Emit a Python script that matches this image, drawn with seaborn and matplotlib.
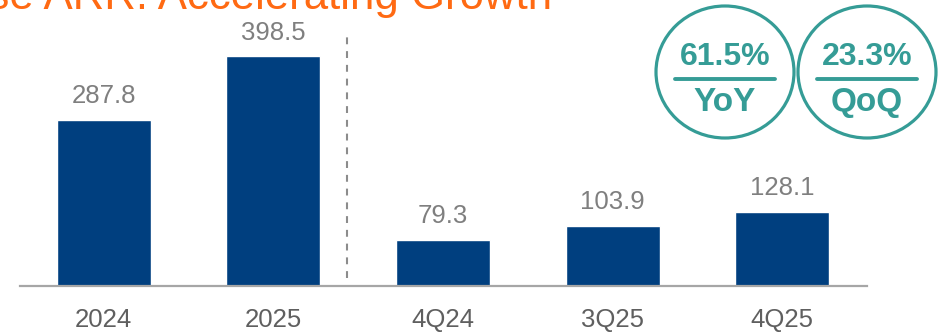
import matplotlib
matplotlib.use("Agg")
import matplotlib.pyplot as plt
from matplotlib.patches import Ellipse
import pandas as pd
import seaborn as sns

sns.set_theme(style="white")
plt.rcParams["font.family"] = ["Liberation Sans", "DejaVu Sans"]

periods = ["2024", "2025", "4Q24", "3Q25", "4Q25"]
values = [287.8, 398.5, 79.3, 103.9, 128.1]
badge_values = ["61.5%", "23.3%"]
badge_labels = ["YoY", "QoQ"]
title = "Base ARR: Accelerating Growth"

NAVY = "#003F7F"
TEAL = "#359C96"
ORANGE = "#FF6A13"
GRAY = "#7F7F7F"

df = pd.DataFrame({"period": periods, "value": values})

W, H = 941, 333
fig = plt.figure(figsize=(W / 100, H / 100), dpi=100)
ax = fig.add_axes([20 / W, (H - 286) / H, 847 / W, 286 / H])

sns.barplot(data=df, x="period", y="value", color=NAVY, saturation=1,
            width=0.554, ax=ax)
ax.set_xlim(-0.493, 4.5)
ax.set_ylim(0, 496.5)

for i, v in enumerate(values):
    ax.annotate(f"{v:.1f}", (i, v), xytext=(0, 12.2), textcoords="offset points",
                ha="center", va="baseline", fontsize=18.5, color=GRAY)

# separator between annual and quarterly bars
ax.plot([1.432, 1.432], [14, 439], color="#8C8C8C", lw=1.5,
        linestyle=(0, (3.3, 3.3)), clip_on=False)

for side in ["top", "right", "left"]:
    ax.spines[side].set_visible(False)
ax.spines["bottom"].set_color("#A6A6A6")
ax.spines["bottom"].set_linewidth(1.6)
ax.set_yticks([])
ax.set_xlabel("")
ax.set_ylabel("")
ax.tick_params(axis="x", length=0, pad=15.5, labelsize=18.5, labelcolor="#5F5F5F")

# growth badges
for cx, val, lab in zip([725, 867], badge_values, badge_labels):
    fig.patches.append(Ellipse((cx / W, 1 - 72 / H), 138 / W, 132 / H,
                               transform=fig.transFigure, fill=False,
                               edgecolor=TEAL, lw=2.3))
    fig.text(cx / W, 1 - 65 / H, val, ha="center", va="baseline",
             fontsize=23, fontweight="bold", color=TEAL)
    fig.add_artist(plt.Line2D([(cx - 50) / W, (cx + 50) / W], [1 - 78.5 / H] * 2,
                              transform=fig.transFigure, color=TEAL, lw=2.8))
    fig.text(cx / W, 1 - 111 / H, lab, ha="center", va="baseline",
             fontsize=24, fontweight="bold", color=TEAL)

fig.text(-66 / W, 1 - 9 / H, title, ha="left", va="baseline",
         fontsize=31.5, color=ORANGE)

fig.savefig("out.png", dpi=100)
